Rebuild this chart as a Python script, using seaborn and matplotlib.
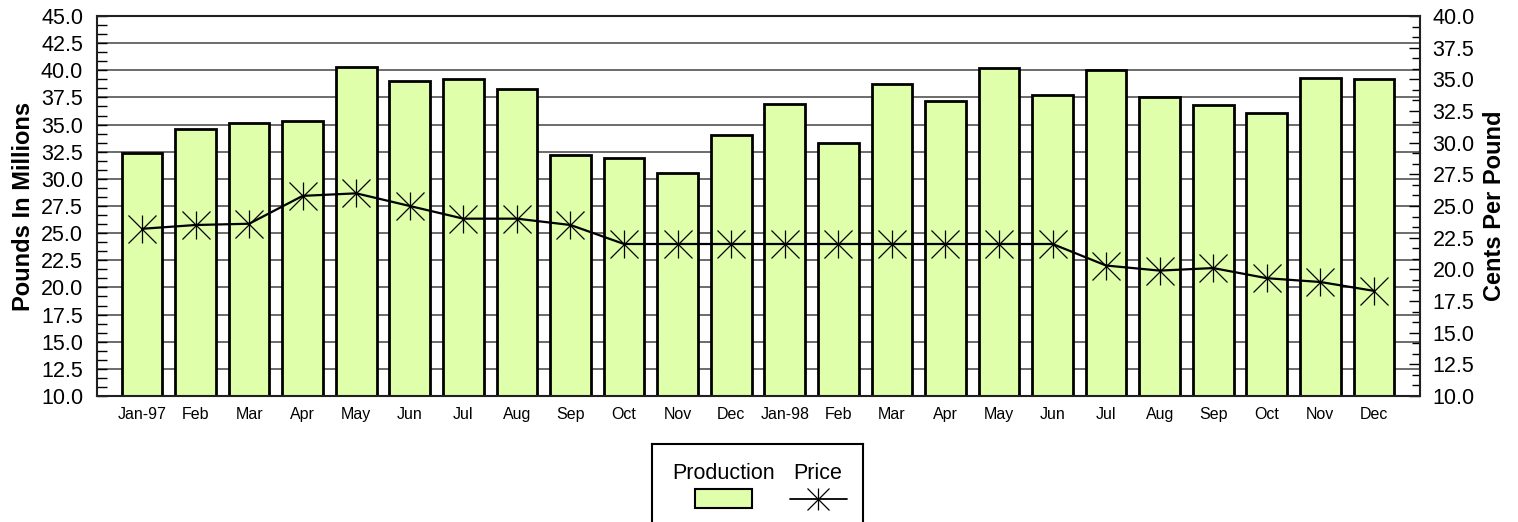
import numpy as np
import matplotlib
matplotlib.use("Agg")
import matplotlib.pyplot as plt
from matplotlib.ticker import MultipleLocator, FormatStrFormatter
from matplotlib.patches import Rectangle
import seaborn as sns

# Donnees
mois = ["Jan-97", "Feb", "Mar", "Apr", "May", "Jun", "Jul", "Aug", "Sep", "Oct", "Nov", "Dec",
        "Jan-98", "Feb", "Mar", "Apr", "May", "Jun", "Jul", "Aug", "Sep", "Oct", "Nov", "Dec"]
production = [32.4, 34.6, 35.1, 35.3, 40.3, 39.05, 39.2, 38.3, 32.2, 31.9, 30.5, 34.05,
              36.9, 33.3, 38.7, 37.2, 40.2, 37.7, 40.0, 37.5, 36.8, 36.1, 39.3, 39.2]
prix = [23.2, 23.5, 23.6, 25.8, 26.0, 25.0, 24.0, 24.0, 23.5, 22.0, 22.0, 22.0,
        22.0, 22.0, 22.0, 22.0, 22.0, 22.0, 20.3, 19.9, 20.1, 19.3, 19.0, 18.3]

positions = list(range(len(mois)))
couleur_barre = "#e0ffaa"

sns.set_theme(style="white")
plt.rcParams["font.family"] = ["Liberation Sans", "DejaVu Sans"]
plt.rcParams["text.color"] = "black"
plt.rcParams["axes.labelcolor"] = "black"
plt.rcParams["xtick.color"] = "black"
plt.rcParams["ytick.color"] = "black"

fig = plt.figure(figsize=(15.18, 5.22), dpi=100)
ax = fig.add_axes([97 / 1518, 126 / 522, (1420 - 97) / 1518, (396 - 16) / 522])

# Barres de production
sns.barplot(x=positions, y=production, ax=ax, color=couleur_barre, saturation=1,
            width=0.76, edgecolor="black", linewidth=2, zorder=2)
ax.set_xlim(-0.84, 23.86)
ax.set_ylim(10, 45)
ax.yaxis.set_major_locator(MultipleLocator(2.5))
ax.yaxis.set_minor_locator(MultipleLocator(2.5 / 3))
ax.yaxis.set_major_formatter(FormatStrFormatter("%.1f"))
ax.set_xticks(positions)
ax.set_xticklabels(mois, fontsize=11.5)
ax.yaxis.grid(True, color="#444444", lw=1.1)
ax.set_axisbelow(True)
ax.tick_params(axis="y", which="both", direction="in", left=True, labelsize=15.5, pad=10,
               length=7, width=1)
ax.tick_params(axis="x", direction="in", bottom=True, length=13, width=1, pad=8)
ax.set_ylabel("Pounds In Millions", fontsize=17, fontweight="bold", labelpad=4)
ax.set_xlabel("")
for s in ax.spines.values():
    s.set_color("black")
    s.set_linewidth(1.5)

# Prix sur l'axe de droite
ax2 = ax.twinx()
sns.lineplot(x=positions, y=prix, ax=ax2, color="black", lw=1.6, marker="x",
             markersize=20, markeredgewidth=0.9, markeredgecolor="black", zorder=3)
ax2.plot(positions, prix, linestyle="none", marker="|", markersize=20,
         markeredgewidth=0.9, color="black", zorder=3)
ax2.set_ylim(10, 40)
ax2.yaxis.set_major_locator(MultipleLocator(2.5))
ax2.yaxis.set_minor_locator(MultipleLocator(2.5 / 3))
ax2.yaxis.set_major_formatter(FormatStrFormatter("%.1f"))
ax2.tick_params(axis="y", which="both", direction="in", right=True, labelsize=15.5, pad=9,
                length=8, width=1)
ax2.tick_params(axis="y", which="minor", length=6)
ax2.set_ylabel("Cents Per Pound", fontsize=17, fontweight="bold", labelpad=6)
ax2.set_xlim(-0.84, 23.86)

# Legende dessinee a la main (libelles au-dessus des symboles)
leg = fig.add_axes([652 / 1518, -0.05, (863 - 652) / 1518, 0.05 + (522 - 444) / 522])
leg.set_xlim(652, 863)
leg.set_ylim(522 + 0.05 * 522, 444)
leg.set_xticks([])
leg.set_yticks([])
for s in leg.spines.values():
    s.set_color("black")
    s.set_linewidth(1.5)
leg.set_facecolor("white")
leg.add_patch(Rectangle((695, 489), 57, 19, facecolor=couleur_barre, edgecolor="black", lw=1.5))
leg.plot([790, 847], [499, 499], color="black", lw=1.3)
leg.plot([818], [499], marker="x", markersize=16, markeredgewidth=0.9, color="black")
leg.plot([818], [499], marker="|", markersize=16, markeredgewidth=0.9, color="black")
leg.text(724, 473, "Production", ha="center", va="center", fontsize=15.5)
leg.text(818, 473, "Price", ha="center", va="center", fontsize=15.5)

fig.savefig("out.png", dpi=100)
